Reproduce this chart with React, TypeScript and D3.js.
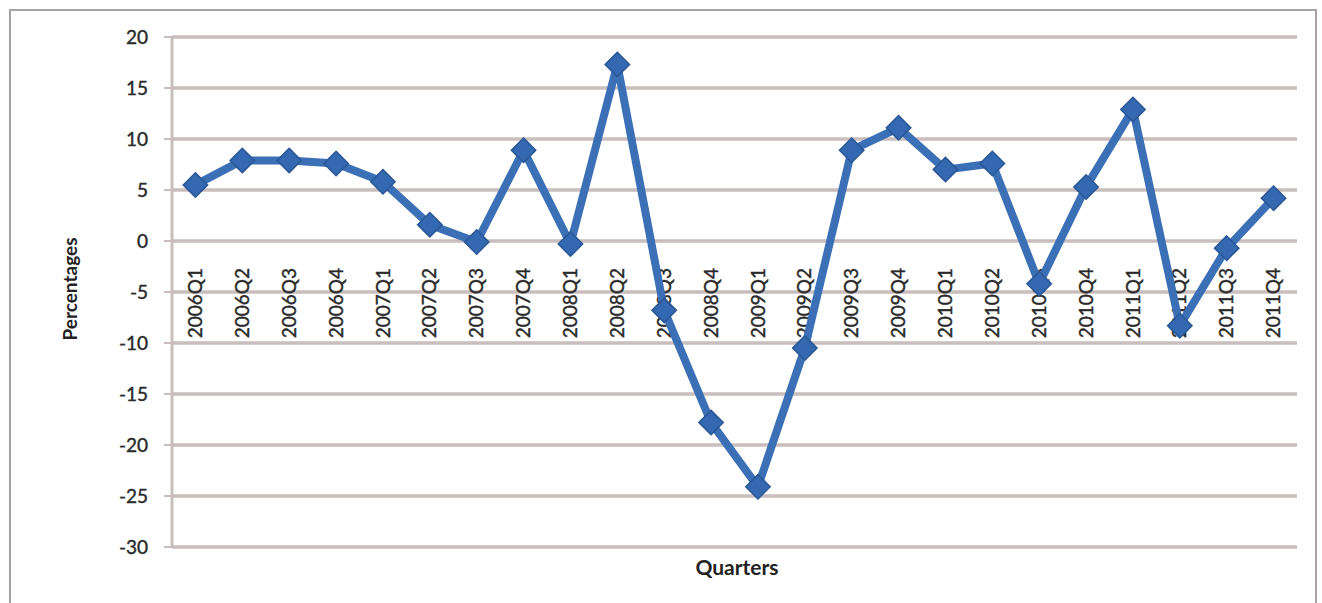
import React from 'react';
import * as d3 from 'd3';

const quarters = [
  '2006Q1','2006Q2','2006Q3','2006Q4',
  '2007Q1','2007Q2','2007Q3','2007Q4',
  '2008Q1','2008Q2','2008Q3','2008Q4',
  '2009Q1','2009Q2','2009Q3','2009Q4',
  '2010Q1','2010Q2','2010Q3','2010Q4',
  '2011Q1','2011Q2','2011Q3','2011Q4',
];
const values = [
  5.5, 7.9, 7.9, 7.6,
  5.8, 1.6, -0.1, 8.9,
  -0.3, 17.3, -6.8, -17.8,
  -24.1, -10.5, 8.9, 11.1,
  7.0, 7.6, -4.2, 5.3,
  12.9, -8.3, -0.7, 4.2,
];
const yTicks = [20, 15, 10, 5, 0, -5, -10, -15, -20, -25, -30];

const W = 1322;
const H = 603;
const left = 172;
const right = 1297;
const top = 37;
const bottom = 547;

export default function App() {
  const x = d3.scaleBand<string>().domain(quarters).range([left, right]);
  const y = d3.scaleLinear().domain([-30, 20]).range([bottom, top]);
  const line = d3
    .line<number>()
    .x((_, i) => (x(quarters[i]) as number) + x.bandwidth() / 2)
    .y((d) => y(d));
  const diamond = d3.symbol().type(d3.symbolDiamond2).size(380)();
  const font = 'Lato, "Open Sans", sans-serif';
  const grid = '#c9bdbd';

  return (
    <svg
      width={W}
      height={H}
      style={{ position: 'absolute', left: 0, top: 0, background: '#fff' }}
    >
      <rect x={10} y={10} width={1306} height={H} fill="#fff" stroke="#a9a2a2" strokeWidth={2} />
      {yTicks.map((t) => (
        <g key={t}>
          <line x1={left} x2={right} y1={y(t)} y2={y(t)} stroke={grid} strokeWidth={3.5} />
          <line x1={left - 8} x2={left} y1={y(t)} y2={y(t)} stroke={grid} strokeWidth={2} />
          <text
            x={148}
            y={y(t)}
            dy="0.35em"
            textAnchor="end"
            fontFamily={font}
            fontSize={19}
            fill="#2a2a2a"
            stroke="#2a2a2a"
            strokeWidth={0.4}
          >
            {t}
          </text>
        </g>
      ))}
      <line x1={left} x2={left} y1={top} y2={bottom} stroke={grid} strokeWidth={3} />
      {quarters.map((q) => {
        const cx = (x(q) as number) + x.bandwidth() / 2;
        return (
          <text
            key={q}
            transform={`translate(${cx},${268}) rotate(-90)`}
            textAnchor="end"
            dy="0.35em"
            fontFamily={font}
            fontSize={19}
            fill="#2a2a2a"
            stroke="#2a2a2a"
            strokeWidth={0.4}
          >
            {q}
          </text>
        );
      })}
      <path d={line(values) || ''} fill="none" stroke="#3b6fb6" strokeWidth={8} strokeLinejoin="round" />
      {values.map((v, i) => (
        <path
          key={i}
          d={diamond || ''}
          transform={`translate(${(x(quarters[i]) as number) + x.bandwidth() / 2},${y(v)})`}
          fill="#3468b0"
          stroke="#2a5796"
          strokeWidth={1.5}
        />
      ))}
      <text
        transform={`translate(70,289) rotate(-90)`}
        textAnchor="middle"
        dy="0.35em"
        fontFamily={font}
        fontWeight="bold"
        fontSize={19}
        fill="#222"
      >
        Percentages
      </text>
      <text
        x={737}
        y={568}
        textAnchor="middle"
        dy="0.35em"
        fontFamily={font}
        fontWeight="bold"
        fontSize={21}
        fill="#222"
      >
        Quarters
      </text>
    </svg>
  );
}
